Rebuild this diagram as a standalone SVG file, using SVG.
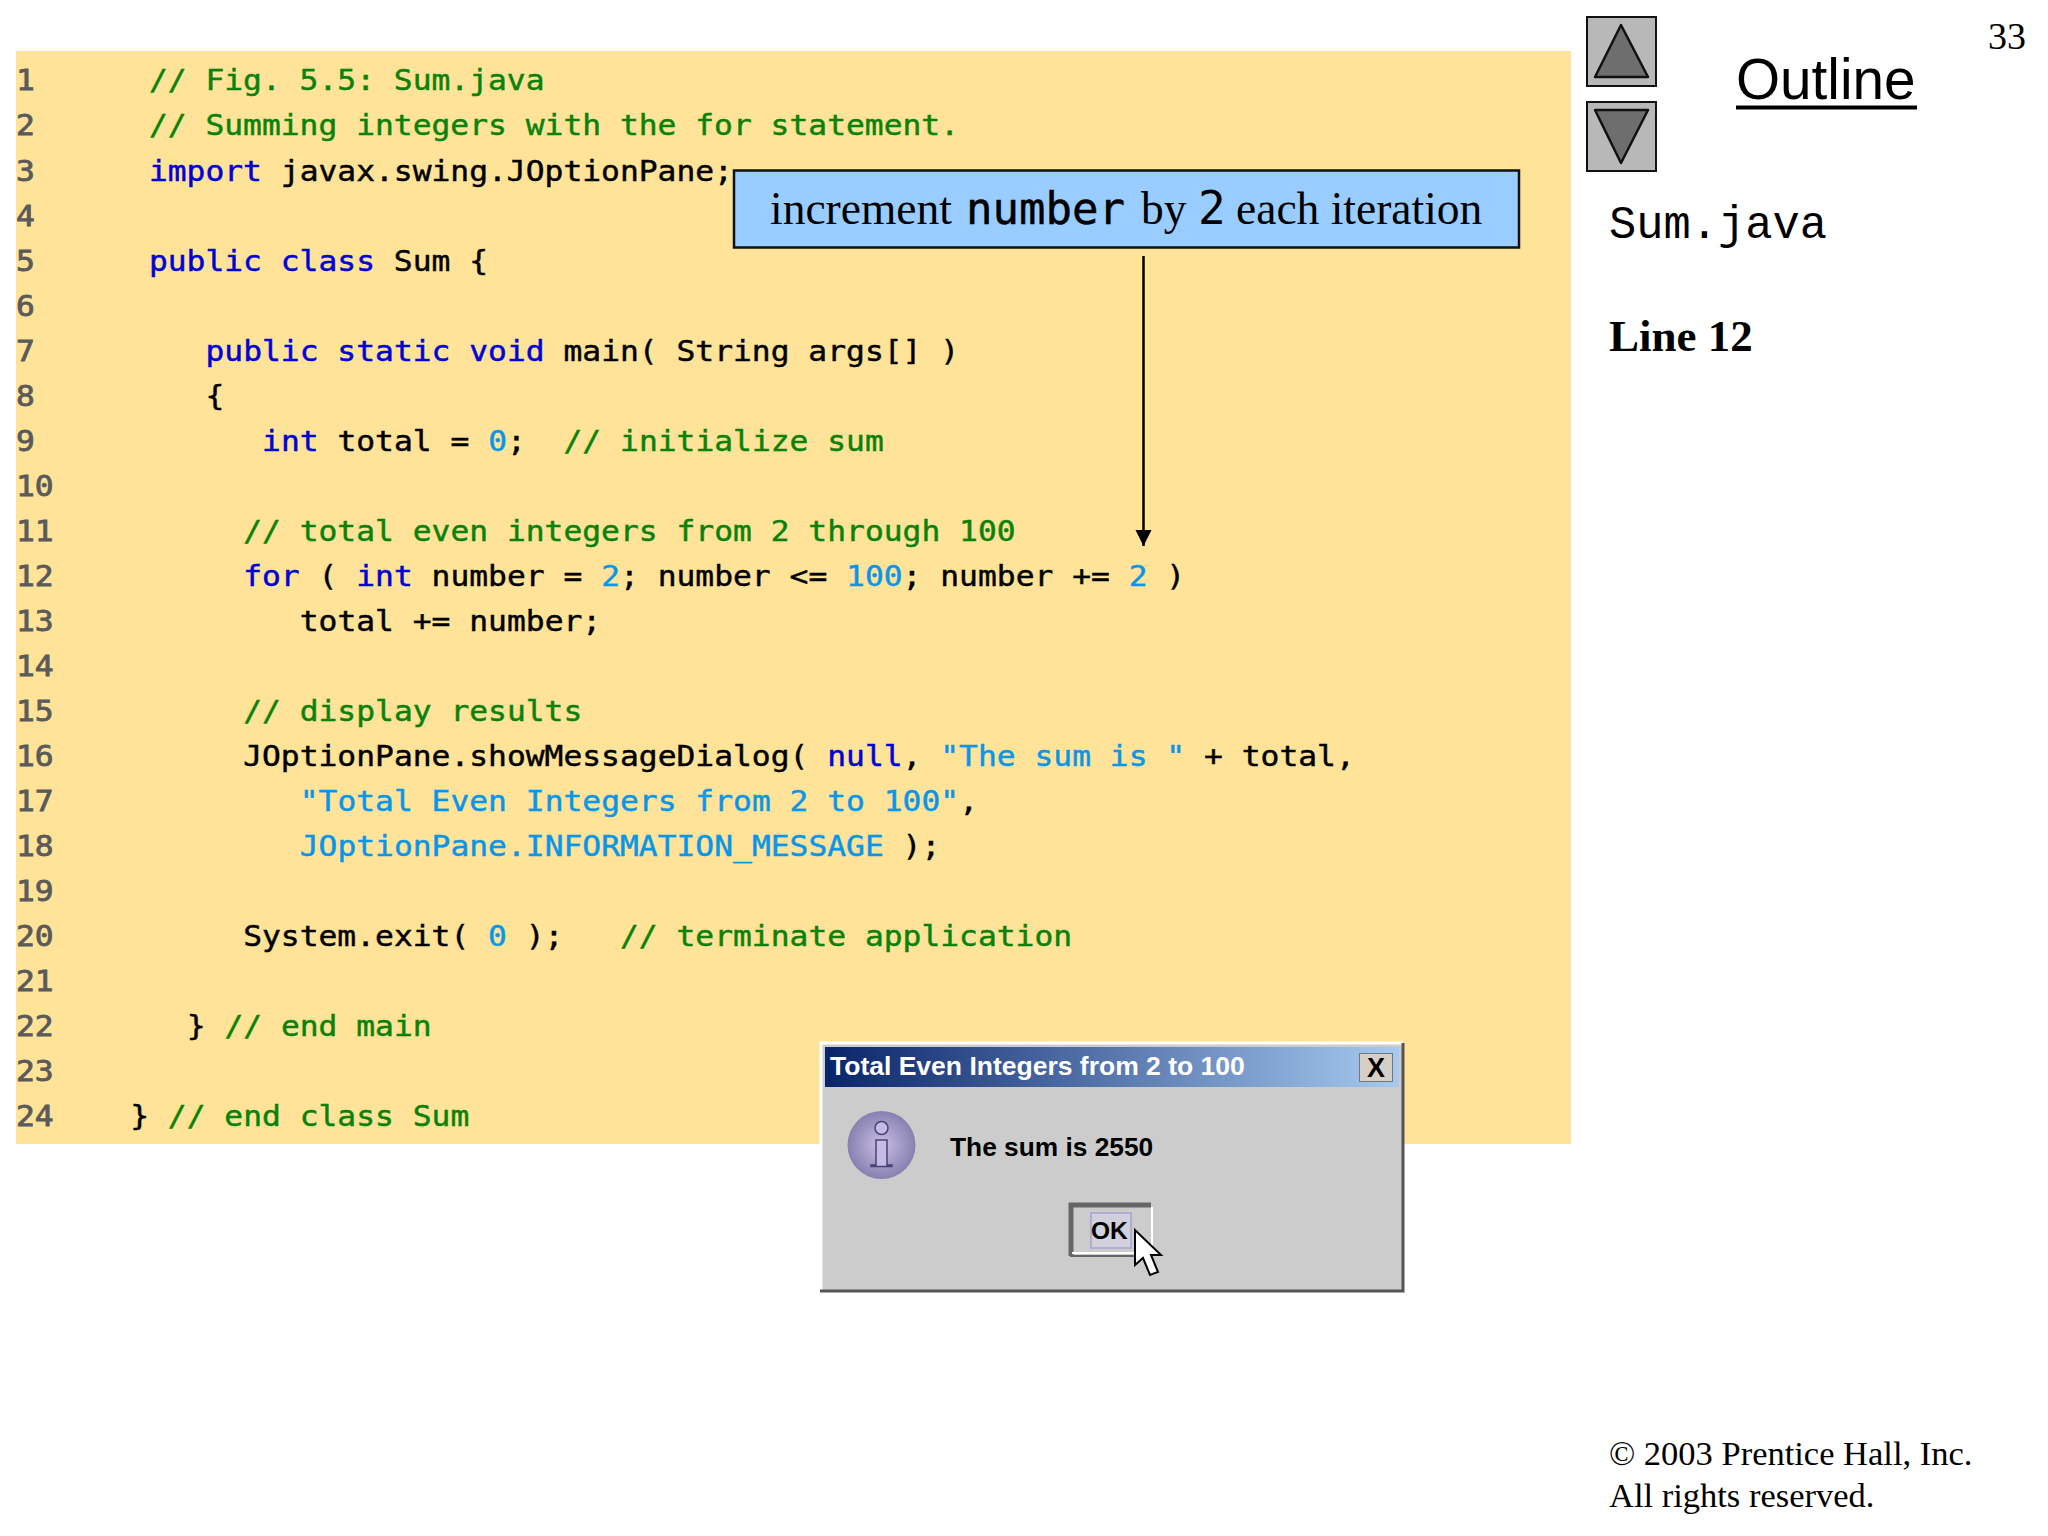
<svg xmlns="http://www.w3.org/2000/svg" width="2048" height="1536" viewBox="0 0 2048 1536">
<style>
text{white-space:pre}
.code text{font-family:"DejaVu Sans Mono",monospace;font-size:28px;fill:#000;stroke:#000;stroke-width:.45px}
.code text.n{fill:#5a5a5a;stroke:#5a5a5a;stroke-width:.8px}
.code .k{fill:#0000d8;stroke:#0000d8}
.code .c{fill:#0a820a;stroke:#0a820a}
.code .s{fill:#0a96e8;stroke:#0a96e8}
.serif{font-family:"Liberation Serif",serif;fill:#000}
.sans{font-family:"Liberation Sans",sans-serif}
.dlg{font-family:"Liberation Sans",sans-serif;font-weight:700}
.btn{fill:#b8b8b8;stroke:#111;stroke-width:2}
.tri{fill:#6e6e6e;stroke:#111;stroke-width:2.5;stroke-linejoin:round}
</style>
<defs>
<linearGradient id="tb" x1="0" x2="1" y1="0" y2="0"><stop offset="0" stop-color="#0a246a"/><stop offset="1" stop-color="#a6caf0"/></linearGradient>
<radialGradient id="ic"><stop offset="0" stop-color="#c8c0e4"/><stop offset="1" stop-color="#8880b0"/></radialGradient>
<marker id="ah" markerUnits="userSpaceOnUse" markerWidth="16" markerHeight="17" refX="16" refY="8" orient="auto"><path d="M0 0L16 8L0 16Z" fill="#000"/></marker>
</defs>
<rect width="2048" height="1536" fill="#fff"/>
<rect id="code-panel" x="16" y="51" width="1555" height="1093" fill="#fee398"/>
<g id="code" class="code" transform="scale(1.118 1)">
<text class="n" x="14.3" y="90.5">1</text><text x="133.2" y="90.5" class="c">// Fig. 5.5: Sum.java</text>
<text class="n" x="14.3" y="135.5">2</text><text x="133.2" y="135.5" class="c">// Summing integers with the for statement.</text>
<text class="n" x="14.3" y="180.6">3</text><text x="133.2" y="180.6"><tspan class="k">import</tspan> javax.swing.JOptionPane;</text>
<text class="n" x="14.3" y="225.6">4</text>
<text class="n" x="14.3" y="270.6">5</text><text x="133.2" y="270.6"><tspan class="k">public class</tspan> Sum {</text>
<text class="n" x="14.3" y="315.7">6</text>
<text class="n" x="14.3" y="360.7">7</text><text x="183.8" y="360.7"><tspan class="k">public static void</tspan> main( String args[] )</text>
<text class="n" x="14.3" y="405.7">8</text><text x="183.8" y="405.7">{</text>
<text class="n" x="14.3" y="450.7">9</text><text x="234.4" y="450.7"><tspan class="k">int</tspan> total = <tspan class="s">0</tspan>;  <tspan class="c">// initialize sum</tspan></text>
<text class="n" x="14.3" y="495.8">10</text>
<text class="n" x="14.3" y="540.8">11</text><text x="217.5" y="540.8" class="c">// total even integers from 2 through 100</text>
<text class="n" x="14.3" y="585.8">12</text><text x="217.5" y="585.8"><tspan class="k">for</tspan> ( <tspan class="k">int</tspan> number = <tspan class="s">2</tspan>; number &lt;= <tspan class="s">100</tspan>; number += <tspan class="s">2</tspan> )</text>
<text class="n" x="14.3" y="630.9">13</text><text x="268.1" y="630.9">total += number;</text>
<text class="n" x="14.3" y="675.9">14</text>
<text class="n" x="14.3" y="720.9">15</text><text x="217.5" y="720.9" class="c">// display results</text>
<text class="n" x="14.3" y="766">16</text><text x="217.5" y="766">JOptionPane.showMessageDialog( <tspan class="k">null</tspan>, <tspan class="s">"The sum is "</tspan> + total,</text>
<text class="n" x="14.3" y="811">17</text><text x="268.1" y="811"><tspan class="s">"Total Even Integers from 2 to 100"</tspan>,</text>
<text class="n" x="14.3" y="856">18</text><text x="268.1" y="856"><tspan class="s">JOptionPane.INFORMATION_MESSAGE</tspan> );</text>
<text class="n" x="14.3" y="901">19</text>
<text class="n" x="14.3" y="946.1">20</text><text x="217.5" y="946.1">System.exit( <tspan class="s">0</tspan> );   <tspan class="c">// terminate application</tspan></text>
<text class="n" x="14.3" y="991.1">21</text>
<text class="n" x="14.3" y="1036.1">22</text><text x="167" y="1036.1">} <tspan class="c">// end main</tspan></text>
<text class="n" x="14.3" y="1081.2">23</text>
<text class="n" x="14.3" y="1126.2">24</text><text x="116.4" y="1126.2">} <tspan class="c">// end class Sum</tspan></text>
</g>
<g id="callout">
<rect x="734" y="170.5" width="785" height="77" fill="#99ccff" stroke="#111" stroke-width="2.5"/>
<text class="serif" y="224" font-size="45.500"><tspan x="770">increment</tspan><tspan x="966" font-family="DejaVu Sans Mono,monospace" font-size="44" stroke="#000" stroke-width=".5">number</tspan><tspan x="1141">by</tspan><tspan x="1198" font-family="DejaVu Sans Mono,monospace" font-size="46">2</tspan><tspan x="1236">each iteration</tspan></text>
</g>
<g id="connectors">
<line x1="1143.5" y1="256" x2="1143.5" y2="546" stroke="#000" stroke-width="2.5" marker-end="url(#ah)"/>
</g>
<g id="nav-up"><rect class="btn" x="1587" y="17" width="69" height="69"/><path class="tri" d="M1621 25L1648 77H1595Z"/></g>
<g id="nav-down"><rect class="btn" x="1587" y="102" width="69" height="69"/><path class="tri" d="M1595 110H1648L1621 163Z"/></g>
<g id="sidebar">
<text class="sans" x="1736" y="98.5" font-size="56.700">Outline</text>
<rect x="1736" y="105.500" width="181" height="4" fill="#000"/>
<text class="serif" x="1988" y="49" font-size="38">33</text>
<text x="1609" y="238" font-family="Liberation Mono,monospace" font-size="45.400">Sum.java</text>
<text class="serif" x="1609" y="351" font-size="45" font-weight="700">Line 12</text>
<text class="serif" x="1609" y="1465" font-size="34.500">© 2003 Prentice Hall, Inc.</text>
<text class="serif" x="1609" y="1507" font-size="34.500">All rights reserved.</text>
</g>
<g id="dialog">
<rect x="820" y="1042" width="584" height="250" fill="#cccccc"/>
<path d="M821 1291V1043H1403" fill="none" stroke="#fff" stroke-width="3"/>
<path d="M820 1291H1403V1043" fill="none" stroke="#555" stroke-width="3"/>
<rect x="825" y="1047" width="574" height="40" fill="url(#tb)"/>
<text class="dlg" x="830" y="1075" font-size="26.500" fill="#fff">Total Even Integers from 2 to 100</text>
<rect x="1359.500" y="1053.500" width="33" height="28" fill="#d4d0c8" stroke="#777"/>
<text class="dlg" x="1376" y="1077" font-size="27" text-anchor="middle" fill="#000">X</text>
<ellipse cx="881.500" cy="1145" rx="34" ry="34" fill="url(#ic)"/>
<g fill="#c4bce4" stroke="#4a4278" stroke-width="1.500"><circle cx="881.500" cy="1128" r="6.500"/><path d="M876 1140H887V1165H892V1166.500H871V1165H876Z"/></g>
<text class="dlg" x="950" y="1156" font-size="26.300" fill="#000">The sum is 2550</text>
</g>
<g id="ok-button">
<path d="M1071 1256V1205H1151" fill="none" stroke="#666" stroke-width="5"/>
<path d="M1072 1253H1152V1207" fill="none" stroke="#fff" stroke-width="2"/>
<path d="M1070 1256H1152" stroke="#666" stroke-width="2"/>
<rect x="1091" y="1213" width="40" height="35" fill="#d2d0dc" stroke="#a8a0d0" stroke-width="1.500"/>
<text class="dlg" x="1091" y="1239" font-size="24.500" fill="#000">OK</text>
<path d="M1135 1230V1265L1143 1258L1150 1275L1158 1272L1151 1255H1161Z" fill="#fff" stroke="#000" stroke-width="2"/>
</g>
</svg>
